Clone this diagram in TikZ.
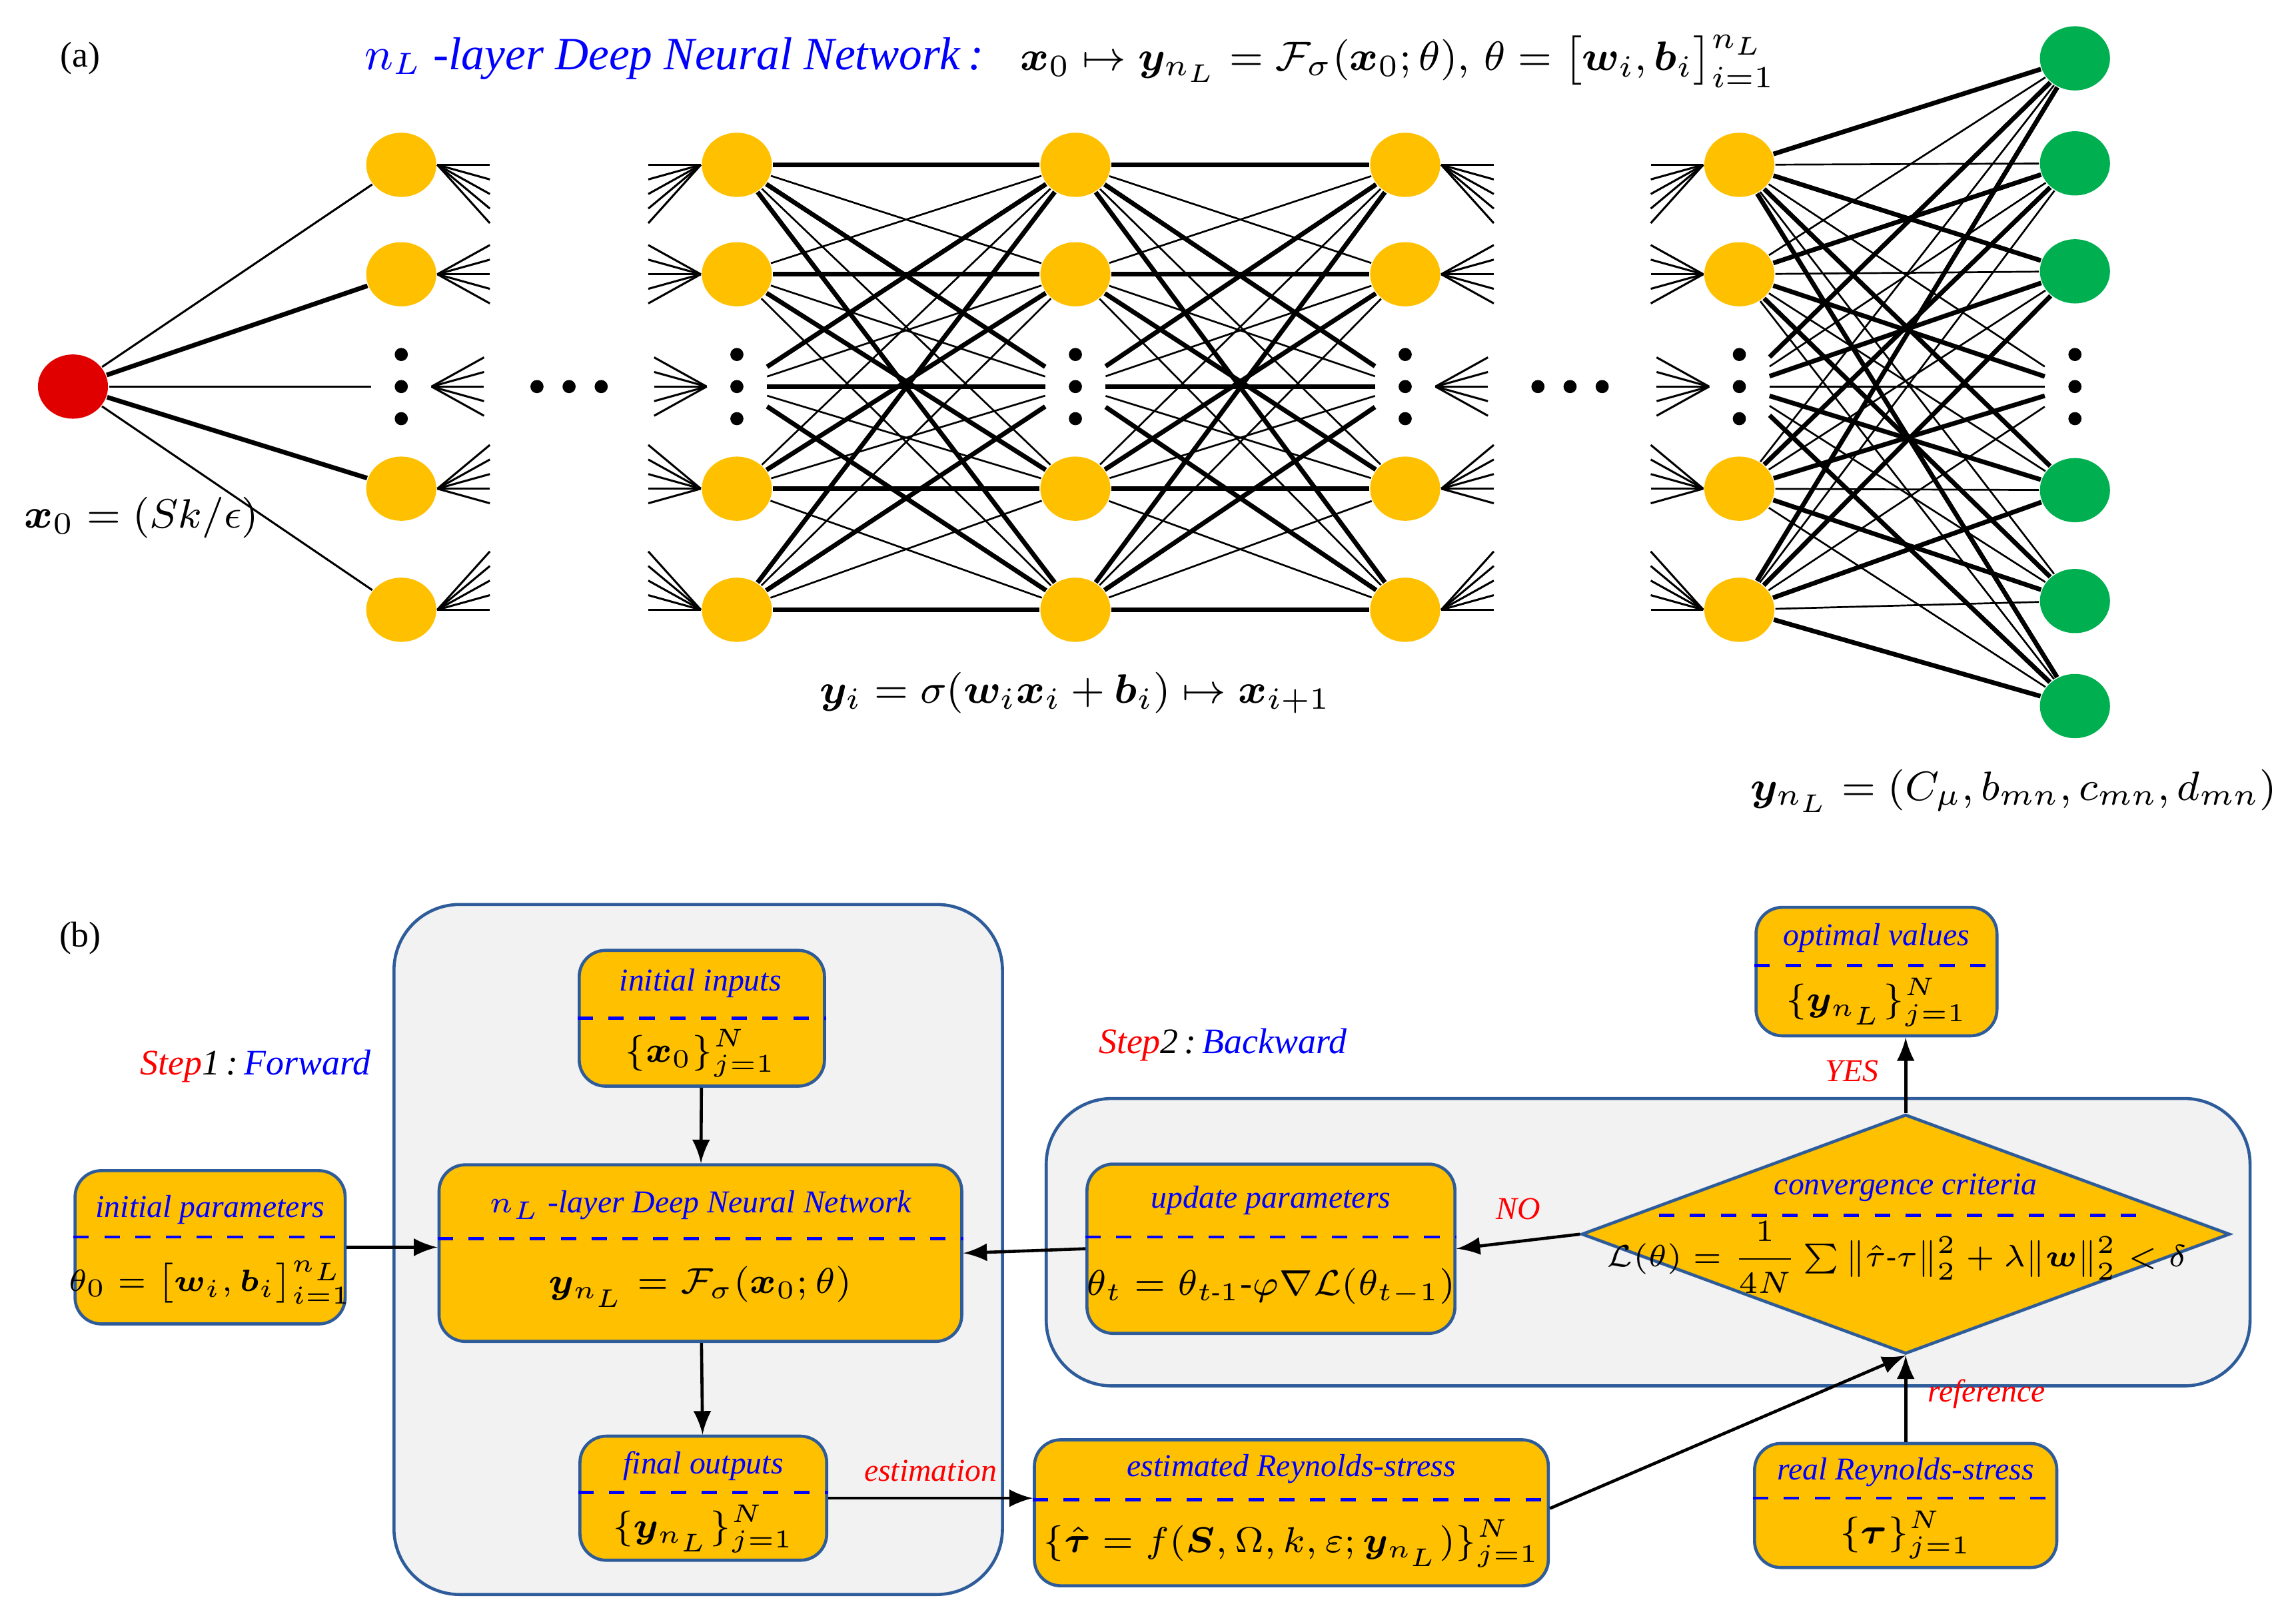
\documentclass[tikz,border=0pt]{standalone}
\usepackage{amsmath}
\usepackage{amssymb}
\usepackage{bm}
\usepackage{fontspec}
\setmainfont{Liberation Serif}
\usepackage{tikz}
\usetikzlibrary{calc,shapes,arrows,fit,positioning}
\definecolor{nyellow}{HTML}{FFC000}
\definecolor{ngreen}{HTML}{00B050}
\definecolor{nred}{HTML}{E00000}
\definecolor{bblue}{HTML}{2E5C9A}
\definecolor{bgray}{HTML}{F2F2F2}
\tikzset{
  hid/.style={ellipse,fill=nyellow,minimum width=0.48cm,minimum height=0.44cm,inner sep=0pt},
  outn/.style={hid,fill=ngreen},
  inn/.style={hid,fill=nred},
  dotn/.style={minimum width=0.4cm,minimum height=0.6cm,inner sep=0pt},
  panel/.style={draw=bblue,fill=bgray,rounded corners=0.45cm,line width=0.6pt},
  fbox/.style={draw=bblue,fill=nyellow,rounded corners=0.18cm,line width=0.6pt,inner sep=0pt},
  divline/.style={blue,dashed,line width=0.6pt},
  ttl/.style={font=\fontsize{6.2}{7}\selectfont\itshape,text=blue,inner sep=1pt},
  frm/.style={font=\fontsize{7}{8}\selectfont,inner sep=1pt},
  lbl/.style={font=\fontsize{6.2}{7}\selectfont\itshape,text=red,inner sep=1pt},
  big/.style={font=\fontsize{8}{9.5}\selectfont},
  arr/.style={-latex,line width=0.6pt}
}
\begin{document}
\begin{tikzpicture}[x=0.01cm,y=-0.01cm]
\useasboundingbox (0,0) rectangle (1568,1113);
% (a) network
\node[font=\fontsize{7}{8}\selectfont] (lbla) at (55,40) {(a)};
\node[font=\fontsize{9}{10}\selectfont\itshape,text=blue] (ttla) at (462,40) {$n_L$ -layer Deep Neural Network\,:};
\node[big] (frma) at (958,42) {$\bm{x}_0\mapsto\bm{y}_{n_L}=\mathcal{F}_\sigma(\bm{x}_0;\theta),\,\theta=\big[\bm{w}_i,\bm{b}_i\big]_{i=1}^{n_L}$};
\node[inn] (in) at (50,265) {};
\foreach \l/\x in {1/275,2/505,3/737,4/963,5/1192}{
  \foreach \k/\y in {1/113,2/188,4/335,5/418}
    \node[hid] (h\l-\k) at (\x,\y) {};
  \node[dotn] (h\l-3) at (\x,265) {};
  \foreach \d in {-22,0,22}
    \fill (\x,{265+\d}) circle (0.045cm);
}
\foreach \k/\y in {1/40,2/112,3/186,5/336,6/412,7/484}
  \node[outn] (o-\k) at (1422,\y) {};
\node[dotn] (o-4) at (1422,265) {};
\foreach \d in {-22,0,22}
  \fill (1422,{265+\d}) circle (0.045cm);
\foreach \dd in {-22,0,22}
  \fill ({390+\dd},265) circle (0.045cm);
\foreach \dd in {-22,0,22}
  \fill ({1076+\dd},265) circle (0.045cm);
% connections
\foreach \k in {1,...,5}{
  \pgfmathsetmacro\lw{mod(\k,2)==0?0.9:0.4}
  \draw[line width=\lw pt] (in) -- (h1-\k);
}
\foreach \a/\b in {2/3,3/4}
  \foreach \i in {1,...,5}
    \foreach \j in {1,...,5}{
      \pgfmathsetmacro\lw{mod(\i+\j,2)==0?0.9:0.35}
      \draw[line width=\lw pt] (h\a-\i) -- (h\b-\j);
    }
\foreach \i in {1,...,5}
  \foreach \j in {1,...,7}{
    \pgfmathsetmacro\lw{mod(\i+\j,2)==0?0.9:0.35}
    \draw[line width=\lw pt] (h5-\i) -- (o-\j);
  }
% stubs
\foreach \l in {1,4}
  \foreach \k/\s in {1/20,2/0,3/0,4/-10,5/-20}
    \foreach \d in {-20,-10,0,10,20}
      \draw[line width=0.4pt] (h\l-\k.east) -- ++(36,{\s+\d});
\foreach \l in {2,5}
  \foreach \k/\s in {1/20,2/0,3/0,4/-10,5/-20}
    \foreach \d in {-20,-10,0,10,20}
      \draw[line width=0.4pt] (h\l-\k.west) -- ++(-36,{\s+\d});
\node[big] (x0) at (97,355) {$\bm{x}_0=(Sk/\epsilon)$};
\node[big] (yi) at (737,475) {$\bm{y}_i=\sigma(\bm{w}_i\bm{x}_i+\bm{b}_i)\mapsto\bm{x}_{i+1}$};
\node[big] (ynl) at (1380,542) {$\bm{y}_{n_L}=(C_\mu,b_{mn},c_{mn},d_{mn})$};
% (b) flowchart
\node[font=\fontsize{7}{8}\selectfont] (lblb) at (55,643) {(b)};
\draw[panel] (270,620) rectangle (687,1093);
\draw[panel] (717,753) rectangle (1542,950);
\node[font=\fontsize{7}{8}\selectfont\itshape] (st1) at (175,731) {\textcolor{red}{Step}1\,:\,\textcolor{blue}{Forward}};
\node[font=\fontsize{7}{8}\selectfont\itshape] (st2) at (838,716) {\textcolor{red}{Step}2\,:\,\textcolor{blue}{Backward}};
% boxes
\node[fbox,minimum width=1.68cm,minimum height=0.93cm] (inp) at (481,698) {};
\node[fbox,minimum width=1.85cm,minimum height=1.05cm] (par) at (144,855) {};
\node[fbox,minimum width=3.58cm,minimum height=1.21cm] (dnn) at (480,859) {};
\node[fbox,minimum width=1.69cm,minimum height=0.85cm] (fin) at (482,1027) {};
\node[fbox,minimum width=3.52cm,minimum height=1.00cm] (est) at (885,1037) {};
\node[fbox,minimum width=2.07cm,minimum height=0.85cm] (real) at (1306,1032) {};
\node[fbox,minimum width=1.65cm,minimum height=0.88cm] (opt) at (1286,666) {};
\node[fbox,minimum width=2.52cm,minimum height=1.16cm] (upd) at (871,856) {};
\node[diamond,draw=bblue,fill=nyellow,line width=0.6pt,inner sep=0pt,minimum width=4.44cm,minimum height=1.64cm] (conv) at (1306,846) {};
% dividers
\foreach \n/\y in {inp/698,par/848,dnn/849,fin/1023,est/1028,real/1027,opt/662,upd/848}{
  \coordinate (\n-d) at (0,\y);
  \draw[divline] (\n.west |- \n-d) -- (\n.east |- \n-d);
}
\draw[divline] (1137,833) -- (1474,833);
% texts
\node[ttl] at (480,674) {initial inputs};
\node[frm] at (480,722) {$\{\bm{x}_0\}_{j=1}^{N}$};
\node[ttl] at (144,829) {initial parameters};
\node[frm,font=\fontsize{6.5}{8}\selectfont] at (144,879) {$\theta_0=\big[\bm{w}_i,\bm{b}_i\big]_{i=1}^{n_L}$};
\node[ttl] at (480,826) {$n_L$ -layer Deep Neural Network};
\node[frm] at (480,882) {$\bm{y}_{n_L}=\mathcal{F}_\sigma(\bm{x}_0;\theta)$};
\node[ttl] at (482,1005) {final outputs};
\node[frm] at (482,1048) {$\{\bm{y}_{n_L}\}_{j=1}^{N}$};
\node[ttl] at (885,1007) {estimated Reynolds-stress};
\node[frm] at (885,1058) {$\{\hat{\bm\tau}=f(\bm{S},\Omega,k,\varepsilon;\bm{y}_{n_L})\}_{j=1}^{N}$};
\node[ttl] at (1306,1009) {real Reynolds-stress};
\node[frm] at (1306,1052) {$\{\bm\tau\}_{j=1}^{N}$};
\node[ttl] at (1286,643) {optimal values};
\node[frm] at (1286,687) {$\{\bm{y}_{n_L}\}_{j=1}^{N}$};
\node[ttl] at (871,823) {update parameters};
\node[frm] at (871,882) {$\theta_t=\theta_{t\text{-}1}\text{-}\varphi\nabla\mathcal{L}(\theta_{t-1})$};
\node[ttl] at (1306,814) {convergence criteria};
\node[font=\fontsize{5.8}{7}\selectfont,inner sep=0pt] at (1300,862) {$\mathcal{L}(\theta)=\dfrac{1}{4N}\sum\big\|\hat{\tau}\text{-}\tau\big\|_2^2+\lambda\big\|\bm{w}\big\|_2^2<\delta$};
% arrows
\draw[arr] (inp) -- (dnn);
\draw[arr] (par) -- (par.east -| dnn.west);
\draw[arr] (dnn) -- (fin);
\draw[arr] (fin.east) -- node[lbl,above=2pt] {estimation} (fin.east -| est.west);
\draw[arr] ($(est.east)+(0,-3)$) -- (conv.south);
\draw[arr] (real) -- node[lbl,right=3pt,pos=0.55] {reference} (conv.south);
\draw[arr] (conv.north) -- node[lbl,left=4pt,pos=0.55] {YES} (conv.north |- opt.south);
\draw[arr] (conv.west) -- node[lbl,above=3pt] {NO} (upd.east);
\draw[arr] (upd.west) -- (dnn.east);
\end{tikzpicture}
\end{document}
